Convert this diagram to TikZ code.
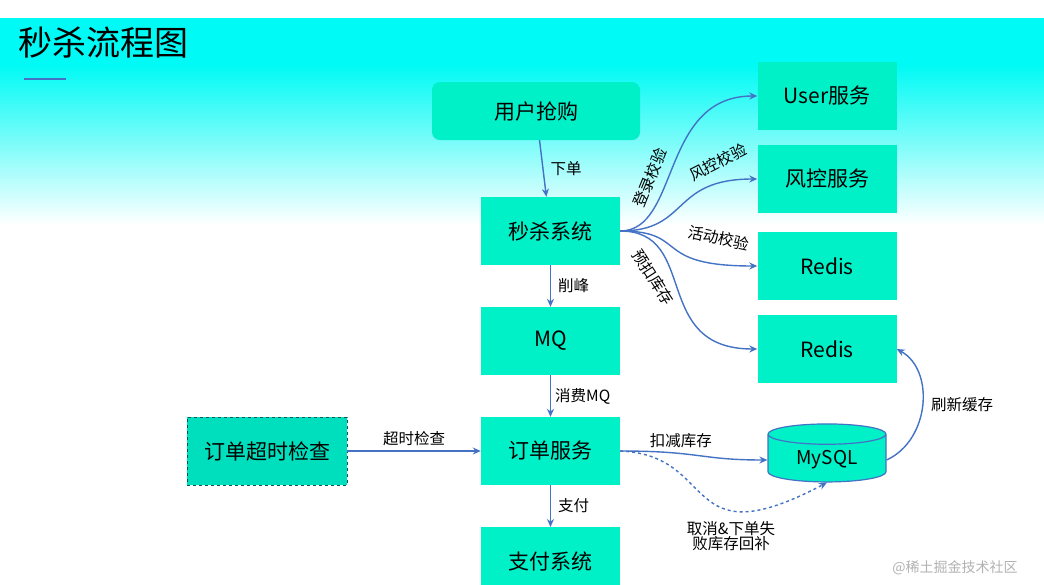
\documentclass[tikz,border=0pt]{standalone}
\usepackage{fontspec}
\setmainfont{Noto Sans CJK SC}
\usetikzlibrary{shapes.geometric,arrows.meta}
\definecolor{tq}{RGB}{0,240,200}
\definecolor{ab}{RGB}{68,114,196}
\definecolor{cy}{RGB}{0,250,245}
\tikzset{
 box/.style={fill=tq,draw=none,minimum width=139pt,minimum height=68pt,font=\fontsize{21}{21}\selectfont,inner sep=0},
 arr/.style={draw=ab,line width=1.4pt,-{Stealth[length=8pt,width=7pt]}},
 lab/.style={font=\fontsize{15.5}{15.5}\selectfont,inner sep=1pt}
}
\begin{document}
\begin{tikzpicture}[x=1pt,y=-1pt]
\useasboundingbox (0,0) rectangle (1044,584);
\fill[white] (0,0) rectangle (1044,584);
\shade[top color=cy,bottom color=white] (0,65) rectangle (1044,225);
\fill[cy] (0,18) rectangle (1044,66);
\node[anchor=west,font=\fontsize{34}{34}\selectfont,inner sep=0] (title) at (18,43) {秒杀流程图};
\draw[ab,line width=2.5pt] (24,79) -- (66,79);
\node[box,rounded corners=8pt,minimum width=208pt,minimum height=58pt] (user) at (536,111) {用户抢购};
\node[box] (ms) at (550.5,231) {秒杀系统};
\node[box] (mq) at (550.5,341) {MQ};
\node[box] (order) at (550.5,451) {订单服务};
\node[box,anchor=north] (pay) at (550.5,527) {支付系统};
\node[box] (us) at (827,96) {User服务};
\node[box] (fk) at (827,179) {风控服务};
\node[box] (r1) at (827,266) {Redis};
\node[box] (r2) at (827,349) {Redis};
\node[box,fill=tq!85!teal,draw=teal!70!black,dashed,line width=0.8pt,minimum width=160pt] (chk) at (267,451) {订单超时检查};
\node[cylinder,shape border rotate=90,aspect=0.3,fill=tq,draw=ab,line width=1.2pt,minimum width=118pt,minimum height=58pt,font=\fontsize{19}{19}\selectfont] (db) at (827,460) {MySQL};
\draw[arr] (user) -- (ms) node[lab,midway,right=6pt] {下单};
\draw[arr] (ms) -- (mq) node[lab,midway,right=6pt] {削峰};
\draw[arr] (mq) -- (order) node[lab,midway,right=3pt] {消费MQ};
\draw[arr] (order) -- (pay) node[lab,midway,right=6pt] {支付};
\draw[arr] (chk) -- (order) node[lab,midway,above=4pt] {超时检查};
\coordinate (o) at (ms.east);
\draw[arr] (o) .. controls (680,231) and (660,96) .. (us.west);
\draw[arr] (o) .. controls (690,231) and (670,179) .. (fk.west);
\draw[arr] (o) .. controls (690,231) and (650,266) .. (r1.west);
\draw[arr] (o) .. controls (700,231) and (650,349) .. (r2.west);
\node[lab,rotate=68] (l1) at (650,178) {登录校验};
\node[lab,rotate=27] (l2) at (718,162) {风控校验};
\node[lab,rotate=-12] (l3) at (719,238) {活动校验};
\node[lab,rotate=-57] (l4) at (653,277) {预扣库存};
\draw[arr] (order.east) .. controls (700,451) and (700,460) .. (db.west) node[lab,pos=0.35,above=4pt] {扣减库存};
\draw[arr,dashed] (order.east) .. controls (720,455) and (680,560) .. (db.south);
\node[lab,align=center] (l5) at (731,536) {取消\&下单失\\败库存回补};
\draw[arr] (db.east) .. controls (930,440) and (935,370) .. (r2.east);
\node[lab] (l6) at (962,405) {刷新缓存};
\node[font=\fontsize{14}{14}\selectfont,text=gray!60] (wm) at (955,568) {@稀土掘金技术社区};
\end{tikzpicture}
\end{document}
